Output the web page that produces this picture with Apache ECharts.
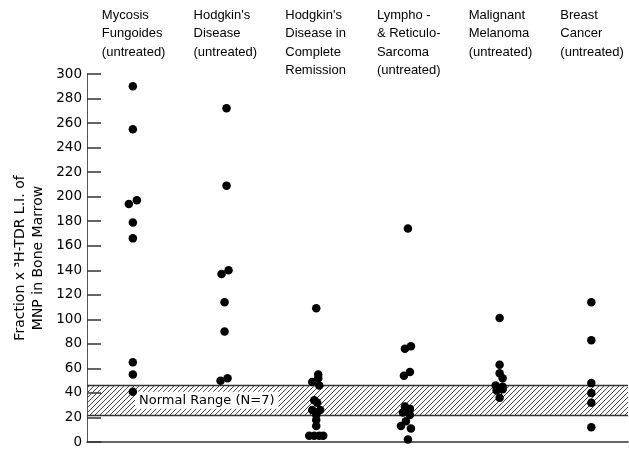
<!DOCTYPE html>
<html>
<head>
<meta charset="utf-8">
<script src="https://cdn.jsdelivr.net/npm/echarts@6/dist/echarts.min.js"></script>
<style>
  html, body { margin: 0; padding: 0; background: #fff; }
  #chart { width: 629px; height: 449px; }
</style>
</head>
<body>
<div id="chart"></div>
<script>
// Column headings (one entry per patient group)
const categories = [
  'Mycosis\nFungoides\n(untreated)',
  "Hodgkin's\nDisease\n(untreated)",
  "Hodgkin's\nDisease in\nComplete\nRemission",
  'Lympho -\n& Reticulo-\nSarcoma\n(untreated)',
  'Malignant\nMelanoma\n(untreated)',
  'Breast\nCancer\n(untreated)'
];

// Fraction x 3H-TDR labelling index of marrow MNP, per patient
const mycosis = [290, 255, 197, 194, 179, 166, 65, 55, 41];
const hodgkinUntreated = [272, 209, 140, 137, 114, 90, 52, 50];
const hodgkinRemission = [109, 55, 52, 49, 46, 34, 32, 26, 26, 22, 18, 13, 5, 5, 5, 5];
const lymphoSarcoma = [174, 78, 76, 57, 54, 29, 27, 26, 24, 22, 17, 13, 11, 2];
const melanoma = [101, 63, 56, 52, 46, 45, 43, 42, 36];
const breastCancer = [114, 83, 48, 40, 32, 12];

// Normal range (N=7)
const normalRange = [22, 46];

// Value axis ticks
const yMin = 0, yMax = 300, yStep = 20;

const groups = [mycosis, hodgkinUntreated, hodgkinRemission, lymphoSarcoma, melanoma, breastCancer];

// Small sideways nudges (px) so touching dots stay visible
const nudges = [
  [0, 0, 4, -4, 0, 0, 0, 0, 0],
  [2, 2, 4, -3, 0, 0, 3, -4],
  [0, 2, 2, -4, 3, -2, 1, -4, 4, 0, 0, 0, -7, -2, 3, 7],
  [0, 3, -3, 2, -4, -3, 2, 0, -5, 2, -2, -7, 3, 0],
  [0, 0, 0, 3, -4, 3, 3, -3, 0],
  [0, 0, 0, 0, 0, 0]
];

// Diagonal hatch for the normal-range band
function hatchPattern() {
  const s = 5;
  const c = document.createElement('canvas');
  c.width = s; c.height = s;
  const g = c.getContext('2d');
  g.strokeStyle = '#444';
  g.lineWidth = 1;
  g.beginPath();
  g.moveTo(0, s); g.lineTo(s, 0);
  g.moveTo(-1, 1); g.lineTo(1, -1);
  g.moveTo(s - 1, s + 1); g.lineTo(s + 1, s - 1);
  g.stroke();
  return c;
}

const chart = echarts.init(document.getElementById('chart'));

const series = groups.map((vals, i) => ({
  type: 'scatter',
  symbol: 'circle',
  symbolSize: 8.5,
  itemStyle: { color: '#000', opacity: 1 },
  z: 5,
  data: vals.map((v, k) => ({ value: [i, v], symbolOffset: [nudges[i][k] || 0, 0] }))
}));

// Band, its edges and its caption ride on the first series
series[0].markArea = {
  silent: true,
  itemStyle: { color: { image: hatchPattern(), repeat: 'repeat' } },
  label: {
    show: true,
    position: 'insideLeft',
    distance: 48,
    formatter: 'Normal Range (N=7)',
    fontFamily: 'DejaVu Sans',
    fontSize: 13,
    color: '#000',
    backgroundColor: '#fff',
    padding: [2, 4]
  },
  data: [[{ yAxis: normalRange[0] }, { yAxis: normalRange[1] }]]
};
series[0].markLine = {
  silent: true,
  symbol: 'none',
  label: { show: false },
  lineStyle: { color: '#333', width: 1.3, type: 'solid' },
  data: normalRange.map(v => ({ yAxis: v }))
};

chart.setOption({
  animation: false,
  backgroundColor: '#fff',
  grid: { left: 87, right: 1, top: 74, bottom: 6.7 },
  xAxis: {
    type: 'value',
    min: -0.5,
    max: 5.4,
    axisLine: { show: true, onZero: false, lineStyle: { color: '#333', width: 1.5 } },
    axisTick: { show: false },
    axisLabel: { show: false },
    splitLine: { show: false }
  },
  yAxis: {
    type: 'value',
    min: yMin,
    max: yMax,
    interval: yStep,
    axisLine: { show: true, onZero: false, lineStyle: { color: '#555', width: 1 } },
    axisTick: { show: true, inside: true, length: 14, lineStyle: { color: '#333', width: 1.5 } },
    axisLabel: { fontFamily: 'DejaVu Sans', fontSize: 13.5, color: '#000', margin: 5 },
    splitLine: { show: false }
  },
  series: series
});

// Headings above each column and the rotated value-axis title
const headFont = '13px "Liberation Sans", Arial, sans-serif';
const graphics = categories.map((txt, i) => ({
  type: 'text',
  x: chart.convertToPixel({ xAxisIndex: 0 }, i) - 31,
  y: 6,
  style: {
    text: txt,
    font: headFont,
    fill: '#000',
    align: 'left',
    verticalAlign: 'top',
    lineHeight: 18.5
  }
}));
graphics.push({
  type: 'text',
  x: 29,
  y: 258,
  rotation: Math.PI / 2,
  style: {
    text: 'Fraction x \u00B3H-TDR L.I. of\nMNP in Bone Marrow',
    font: '14px "DejaVu Sans", sans-serif',
    fill: '#000',
    align: 'center',
    verticalAlign: 'middle',
    lineHeight: 18
  }
});
chart.setOption({ graphic: graphics });
</script>
</body>
</html>
